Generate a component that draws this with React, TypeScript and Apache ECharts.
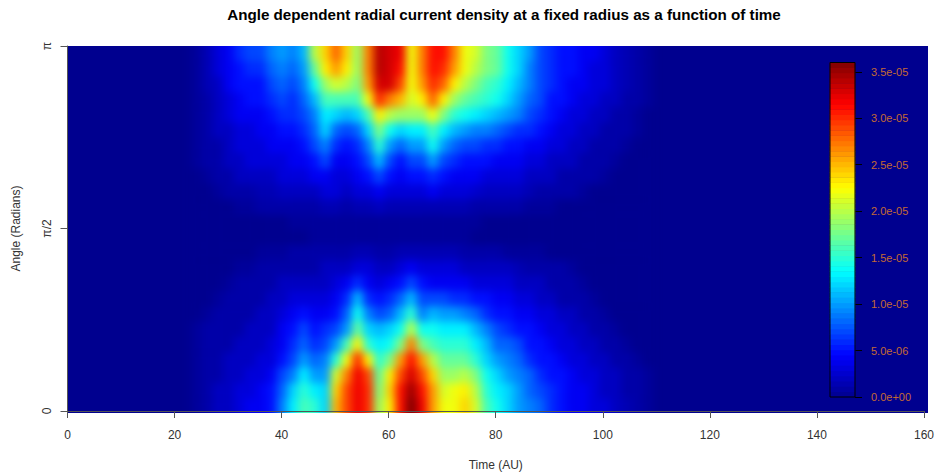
import React, { useEffect, useRef } from "react";
import * as echarts from "echarts";

const titleText = "Angle dependent radial current density at a fixed radius as a function of time";
const xAxisTitle = "Time (AU)";
const yAxisTitle = "Angle (Radians)";
const xTickStep = 20;
const angleTickValues = [0, Math.PI / 2, Math.PI];
const angleTickLabels = ["0", "π/2", "π"];
const colourTickValues = [0, 5e-6, 1e-5, 1.5e-5, 2e-5, 2.5e-5, 3e-5, 3.5e-5];
const colourMax = 3.6e-5;
const jetColours = ["#00008F", "#0000FF", "#0080FF", "#00FFFF", "#80FF80", "#FFFF00", "#FF8000", "#FF0000", "#800000"];

// first column of the matrix is t = 24, step 2, last column t = 108
const firstTime = 24;
const timeStep = 2;
// rows run from angle = pi (top) to angle = 0 (bottom); unit 1e-6
const densityRows: number[][] = [
  [0.5,1.5,3,4,6,7,7,9,10,9,11,20,24,28,24,19,27,34,33,32,22,27,31,31,27,22,21,18,17,14,12,10,7,6,5,5,4,4,3,2,1.5,1,0.5],
  [0.5,1.5,3,4,5,6,6,8,9,8,10,17,23,26,23,19,27,34,33,31,22,27,31,30,26,22,20,18,17,14,12,9,7,6,5,5,4,3,3,2,1.5,1,0.5],
  [0.5,1.5,2,4,5,5,5,7,8,7,9,14,19,21,20,18,26,33,33,29,22,26,30,28,23,20,18,16,15,13,11,9,7,6,5,4,4,3,3,2,1.5,1,0.5],
  [0.5,1,2,3,4,5,5,6,7,6,8,11,16,16,16,16,22,30,27,25,21,23,28,23,19,17,16,15,14,12,10,8,7,5,5,4,3,3,2,2,1,1,0.5],
  [0.5,1,2,3,4,4,4,5,6,6,7,9,13,12,11,12,16,23,20,19,19,19,22,18,15,14,13,12,11,10,9,7,6,5,4,3,3,2,2,1,1,0.5,0],
  [0.5,1,2,2,3,3,4,4,5,5,6,8,12,8,7,8,12,18,14,12,13,13,16,13,11,10,9,9,8,7,6,6,5,4,3,3,2,2,1,1,1,0.5,0],
  [0.5,1,1,2,3,3,3,4,4,4,5,7,9,6,5,6,9,15,10,8,10,10,14,10,8,7,7,6,6,5,5,4,4,3,3,2,2,1,1,1,0.5,0,0],
  [0.5,1,1,2,2,3,3,3,3,4,4,5,7,4,4,5,7,11,7,5,7,7,10,7,6,5,5,5,4,4,4,3,3,2,2,2,1,1,1,0.5,0,0,0],
  [0,0.5,1,1,2,2,2,2,3,3,3,4,4,3,3,4,5,7,5,4,5,5,6,5,4,4,4,3,3,3,3,2,2,2,1,1,1,1,0.5,0,0,0,0],
  [0,0,0.5,1,1,1,1.5,1.5,2,2,2,2,3,3,2,3,3,4,3,3,3,3,4,3,3,3,2.5,2,2,2,2,1.5,1,1,1,1,0.5,0,0,0,0,0,0],
  [0,0,0,0,0.5,0.5,1,1,1,1,1,1,1.5,1.5,1,1.5,1.5,2,1.5,1.5,1.5,1.5,1.5,1.5,1.5,1.5,1,1,1,1,1,0.5,0.5,0.5,0,0,0,0,0,0,0,0,0],
  [0,0,0,0,0,0,0,0,0,0.5,0.5,0.5,0.5,0.5,0.5,0.5,0.5,0.5,0.5,0.5,0.5,0.5,0.5,0.5,0.5,0.5,0.5,0,0,0,0,0,0,0,0,0,0,0,0,0,0,0,0],
  [0,0,0,0,0,0,0,0,0,0,0,0.5,0.5,0.5,0.5,0.5,0.5,0.5,0.5,0.5,0.5,0.5,0.5,0.5,0.5,0.5,0,0,0,0,0,0,0,0,0,0,0,0,0,0,0,0,0],
  [0,0,0,0,0,0,0.5,0.5,0.5,1,1,1,1,1,1,1.5,1.5,1,1,1.5,1.5,1.5,1.5,1.5,1.5,1,1,1,1,0.5,0.5,0.5,0.5,0,0,0,0,0,0,0,0,0,0],
  [0,0,0,0,0.5,0.5,1,1,1,1,1,1,2,2,2,3,3,2,2,3,4,3,3,3,3,2,2,2,2,2,1.5,1,1,1,1,0.5,0,0,0,0,0,0,0],
  [0,0,0,0.5,1,1,1,1,2,2,2,2,2,3,4,6,4,3,4,5,7,5,4,4,4,4,3,3,3,3,2,2,2,1,1,1,0.5,0,0,0,0,0,0],
  [0,0,0.5,1,1,1,1,2,2,3,3,3,3,4,6,11,6,5,6,8,11,7,7,7,6,6,5,5,4,4,3,3,2,2,1,1,1,0.5,0,0,0,0,0],
  [0,0.5,1,1,1,1,2,2,3,4,5,4,4,5,8,14,9,7,8,11,15,9,11,10,10,9,8,6,5,5,4,4,3,3,2,2,1,1,0.5,0,0,0,0],
  [0.5,1,1,1,1,2,2,2,4,5,7,5,6,7,10,17,12,11,12,14,20,14,14,13,13,13,11,9,7,6,5,5,4,3,3,2,2,1,1,0.5,0,0,0],
  [0.5,1,1,1,2,2,2,3,4,6,8,6,7,10,16,23,15,13,14,18,27,18,16,15,15,15,13,11,8,8,7,5,5,4,3,3,2,2,1,1,0.5,0,0],
  [0.5,1,1,2,2,2,3,3,5,7,10,8,9,15,22,30,23,15,18,26,31,26,20,17,17,17,15,12,10,9,8,6,5,5,4,3,3,2,2,1,1,0.5,0],
  [0.5,1,1,2,2,3,3,4,7,9,13,10,10,21,27,32,29,17,23,29,33,29,24,19,19,20,18,14,12,10,9,8,6,5,5,4,3,3,2,2,1,1,0.5],
  [0.5,1,2,2,3,3,4,5,8,12,15,13,12,24,29,32,30,18,24,31,35,31,26,21,22,23,20,15,13,12,10,8,7,6,5,4,4,3,2,2,1,1,0.5],
  [0.5,1,2,2,3,4,4,5,9,13,16,15,12,25,29,32,30,19,23,31,36,32,26,22,22,24,21,16,14,12,10,9,8,6,5,4,4,3,3,2,1.5,1,0.5],
];

const PLOT = { left: 67.5, top: 46, width: 860.5, height: 367 };
const BAR = { left: 830, top: 62.5, width: 25, height: 334.5 };
const BAND_COUNT = 64;
const FONT = "'Liberation Sans', Arial, sans-serif";

function fmtExp(v: number): string {
  const [m, e] = v.toExponential(1).split("e");
  const sign = e[0] === "-" ? "-" : "+";
  const digits = e.replace(/[+-]/, "").padStart(2, "0");
  return `${m}e${sign}${digits}`;
}

export default function App() {
  const heatRef = useRef<HTMLDivElement>(null);
  const axesRef = useRef<HTMLDivElement>(null);

  useEffect(() => {
    document.body.style.margin = "0";
    const heat = echarts.init(heatRef.current!, undefined, { renderer: "svg" });
    const axes = echarts.init(axesRef.current!, undefined, { renderer: "svg" });

    // edge rows are repeated once outside the clip so that the smoothing keeps the plot's edges solid
    const paddedRows = [densityRows[0], ...densityRows, densityRows[densityRows.length - 1]];
    const timeCats: string[] = [];
    for (let t = 0; t <= 160; t += timeStep) timeCats.push(String(t));
    const cells: number[][] = [];
    paddedRows.forEach((row, r) =>
      row.forEach((v, c) => cells.push([(firstTime + c * timeStep) / timeStep, r, v * 1e-6]))
    );

    heat.setOption({
      animation: false,
      grid: { left: 0, right: 0, top: 0, bottom: 0, containLabel: false },
      xAxis: { type: "category", data: timeCats, show: false },
      yAxis: { type: "category", data: paddedRows.map((_, i) => String(i)), inverse: true, show: false },
      visualMap: { show: false, min: 0, max: colourMax, inRange: { color: jetColours }, seriesIndex: 0 },
      series: [
        { type: "heatmap", data: cells, progressive: 0, emphasis: { disabled: true }, itemStyle: { borderWidth: 0 } },
      ],
    });

    const bandStep = colourMax / BAND_COUNT;
    const bandLabels: string[] = [];
    const bandCells: number[][] = [];
    for (let i = 0; i < BAND_COUNT; i++) {
      bandLabels.push(String(i));
      bandCells.push([0, i, (i + 0.5) * bandStep]);
    }

    axes.setOption({
      animation: false,
      textStyle: { fontFamily: FONT },
      title: {
        text: titleText,
        left: 499,
        top: 2,
        textAlign: "center",
        textStyle: { fontFamily: FONT, fontSize: 15.2, fontWeight: "bold", color: "#000" },
      },
      grid: [
        { ...PLOT, show: false },
        { ...BAR, show: true, backgroundColor: "transparent", borderColor: "#000", borderWidth: 1, z: 3 },
      ],
      xAxis: [
        {
          type: "value",
          gridIndex: 0,
          min: 0,
          max: 160,
          interval: xTickStep,
          splitLine: { show: false },
          axisLine: { show: true, onZero: false, lineStyle: { color: "#555", width: 1 } },
          axisTick: { show: true, length: 7, lineStyle: { color: "#555" } },
          axisLabel: { fontSize: 12, color: "#333", margin: 18, fontFamily: FONT, hideOverlap: false },
          name: xAxisTitle,
          nameLocation: "middle",
          nameGap: 48,
          nameTextStyle: { fontSize: 12, color: "#333", fontFamily: FONT },
        },
        { type: "category", gridIndex: 1, data: ["bar"], show: false },
      ],
      yAxis: [
        {
          type: "value",
          gridIndex: 0,
          min: 0,
          max: Math.PI,
          splitLine: { show: false },
          axisLine: { show: true, onZero: false, lineStyle: { color: "#555", width: 1 } },
          axisTick: { show: true, length: 7, customValues: angleTickValues, lineStyle: { color: "#555" } },
          axisLabel: {
            fontSize: 12,
            color: "#333",
            margin: 15,
            rotate: 90,
            fontFamily: FONT,
            customValues: angleTickValues,
            formatter: (v: number) => {
              const i = angleTickValues.findIndex((a) => Math.abs(a - v) < 1e-6);
              return i >= 0 ? angleTickLabels[i] : "";
            },
          },
          name: yAxisTitle,
          nameLocation: "middle",
          nameGap: 46,
          nameTextStyle: { fontSize: 12, color: "#333", fontFamily: FONT },
        },
        { type: "category", gridIndex: 1, data: bandLabels, show: false },
        {
          type: "value",
          gridIndex: 1,
          position: "right",
          min: 0,
          max: colourMax,
          splitLine: { show: false },
          axisLine: { show: false },
          axisTick: { show: true, inside: false, length: 7, customValues: colourTickValues, lineStyle: { color: "#000" } },
          axisLabel: {
            fontSize: 11,
            color: "#C46A33",
            margin: 16,
            fontFamily: FONT,
            customValues: colourTickValues,
            formatter: (v: number) => fmtExp(v),
          },
        },
      ],
      visualMap: { show: false, min: 0, max: colourMax, inRange: { color: jetColours }, seriesIndex: 0 },
      series: [
        {
          type: "heatmap",
          xAxisIndex: 1,
          yAxisIndex: 1,
          data: bandCells,
          progressive: 0,
          emphasis: { disabled: true },
        },
      ],
    });

    return () => {
      heat.dispose();
      axes.dispose();
    };
  }, []);

  const cellH = PLOT.height / densityRows.length;
  const cellW = (PLOT.width / 160) * timeStep;
  return (
    <div style={{ position: "fixed", left: 0, top: 0, width: 937, height: 476, background: "#fff", overflow: "hidden" }}>
      <div
        style={{
          position: "absolute",
          left: PLOT.left,
          top: PLOT.top,
          width: PLOT.width,
          height: PLOT.height,
          overflow: "hidden",
          background: jetColours[0],
        }}
      >
        <div
          ref={heatRef}
          style={{
            position: "absolute",
            left: -cellW / 2,
            top: -cellH,
            width: PLOT.width + cellW,
            height: PLOT.height + 2 * cellH,
            filter: "blur(4px)",
          }}
        />
      </div>
      <div ref={axesRef} style={{ position: "absolute", left: 0, top: 0, width: 937, height: 476 }} />
    </div>
  );
}
